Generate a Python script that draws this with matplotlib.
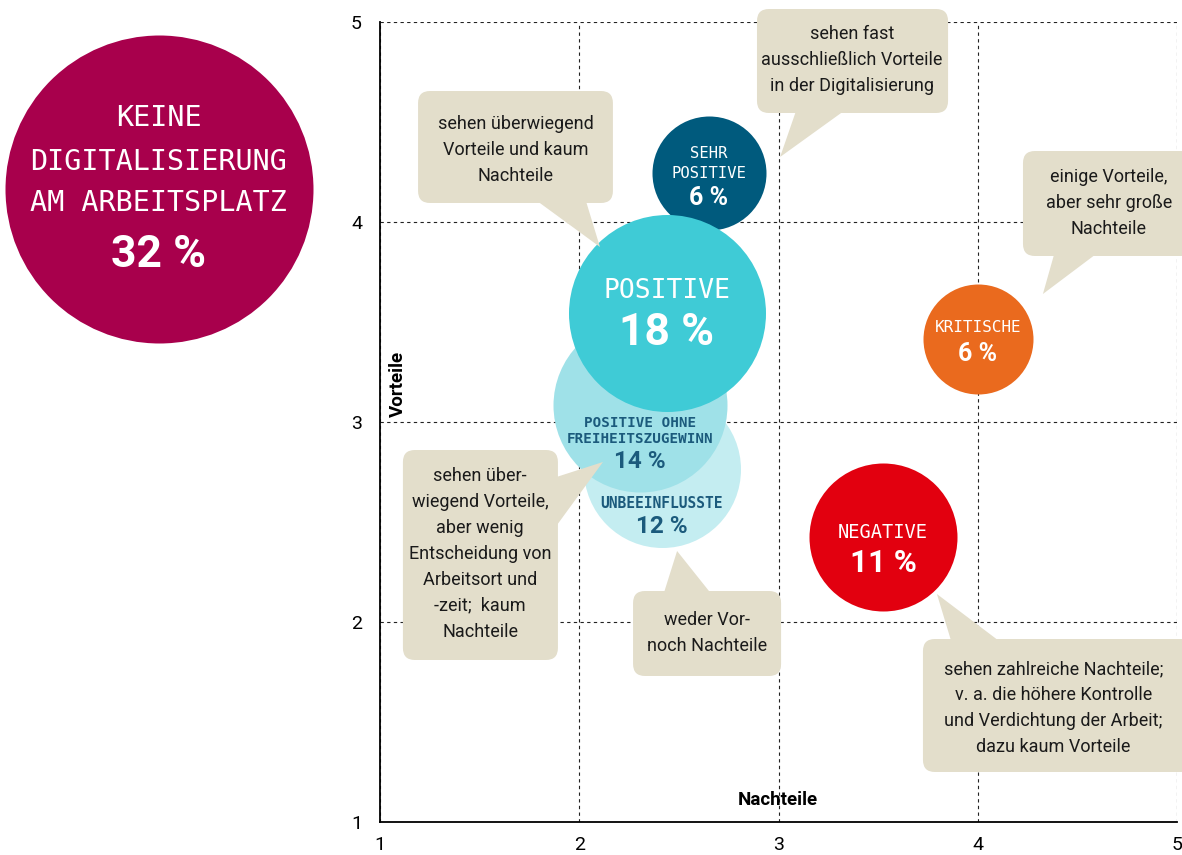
import matplotlib.pyplot as plt
from matplotlib.patches import FancyBboxPatch, Polygon

# --- Daten -------------------------------------------------------------
gruppen = ["SEHR\nPOSITIVE", "POSITIVE", "POSITIVE OHNE\nFREIHEITSZUGEWINN",
           "UNBEEINFLUSSTE", "KRITISCHE", "NEGATIVE"]
anteile = [6, 18, 14, 12, 6, 11]
nachteile = [2.65, 2.44, 2.305, 2.415, 4.0, 3.525]
vorteile = [4.245, 3.545, 3.085, 2.765, 3.415, 2.425]

keine_label = "KEINE\nDIGITALISIERUNG\nAM ARBEITSPLATZ"
keine_anteil = 32

beschreibungen = [
    "sehen überwiegend\nVorteile und kaum\nNachteile",
    "sehen fast\nausschließlich Vorteile\nin der Digitalisierung",
    "einige Vorteile,\naber sehr große\nNachteile",
    "sehen über-\nwiegend Vorteile,\naber wenig\nEntscheidung von\nArbeitsort und\n-zeit;  kaum\nNachteile",
    "weder Vor-\nnoch Nachteile",
    "sehen zahlreiche Nachteile;\nv. a. die höhere Kontrolle\nund Verdichtung der Arbeit;\ndazu kaum Vorteile",
]
ticks = [1, 2, 3, 4, 5]

# --- Stil ----------------------------------------------------------------
PT = 0.72  # Punkte pro Pixel bei 100 dpi
MONO = ["DejaVu Sans Mono"]
NARROW = ["Roboto", "DejaVu Sans"]
BEIGE = "#e3decb"

farben = ["#005a7d", "#3fcbd6", "#9fe1e8", "#c4edf1", "#ea6a1e", "#e2000f"]
textfarben = ["white", "white", "#1b5a7c", "#1b5a7c", "white", "white"]
radien_px = [57, 98.5, 87, 78.5, 55, 74]
ebenen = [4, 5, 4, 3, 4, 4]
# (Zeilenabstaende in px, Schriftgroesse Label, Gewicht, Abstand Zahl, Schriftgroesse Zahl)
layout = [
    ([-20, 0], 11.2, "normal", 25, 18),
    ([-22], 19, "normal", 20, 32),
    ([18, 34], 10.3, "bold", 57, 17.5),
    ([34.5], 10.5, "bold", 57.5, 17.5),
    ([-11], 11.5, "normal", 15, 18),
    ([-5], 13.5, "normal", 26, 22.5),
]

kaesten = [
    dict(box=(1.191, 4.095, 2.169, 4.655), zeiger=[(1.768, 4.12), (2.029, 4.12), (2.104, 3.875)], pos=(1.68, 4.36)),
    dict(box=(2.892, 4.545, 3.851, 5.065), zeiger=[(3.093, 4.57), (3.349, 4.57), (3.008, 4.325)], pos=(3.369, 4.81)),
    dict(box=(4.227, 3.83, 5.08, 4.355), zeiger=[(4.388, 3.855), (4.614, 3.855), (4.327, 3.64)], pos=(4.657, 4.095)),
    dict(box=(1.115, 1.81, 1.893, 2.86), zeiger=[(1.87, 2.72), (1.87, 2.46), (2.119, 2.80)], pos=(1.502, 2.34)),
    dict(box=(2.270, 1.73, 3.013, 2.155), zeiger=[(2.420, 2.13), (2.671, 2.13), (2.491, 2.355)], pos=(2.641, 1.943)),
    dict(box=(3.725, 1.25, 5.08, 1.915), zeiger=[(3.871, 1.89), (4.127, 1.89), (3.795, 2.14)], pos=(4.379, 1.57)),
]

fig = plt.figure(figsize=(11.82, 8.55), dpi=100)
ax = fig.add_axes([380 / 1182, 1 - 822 / 855, 797 / 1182, 800 / 855])
ax.set_xlim(1, 5)
ax.set_ylim(1, 5)
ax.set_xticks(ticks)
ax.set_yticks(ticks)
ax.tick_params(length=0, labelsize=14)
ax.tick_params(axis="x", pad=10)
ax.tick_params(axis="y", pad=13)
for lab in ax.get_xticklabels() + ax.get_yticklabels():
    lab.set_family(NARROW)
ax.grid(True, linestyle=(0, (3, 3)), color="#222222", linewidth=0.8, zorder=0)
ax.set_axisbelow(True)
for s in ["top", "right"]:
    ax.spines[s].set_visible(False)
for s in ["left", "bottom"]:
    ax.spines[s].set_linewidth(1.3)
    ax.spines[s].set_zorder(6)

ax.set_xlabel("Nachteile", family=NARROW, fontsize=13.5, fontweight="bold")
ax.xaxis.set_label_coords(0.4994, 0.039)
ax.set_ylabel("Vorteile", family=NARROW, fontsize=13.5, fontweight="bold")
ax.yaxis.set_label_coords(0.034, 0.5475)


def beschriften(x, y, text, dy_px, size, color, family, weight="normal"):
    ax.annotate(text, (x, y), xytext=(0, -dy_px * PT), textcoords="offset points",
                ha="center", va="center", fontsize=size, color=color, family=family,
                fontweight=weight, zorder=10, annotation_clip=False)


# Blasen
for i in range(len(gruppen)):
    x, y = nachteile[i], vorteile[i]
    ax.scatter([x], [y], s=(2 * radien_px[i] * PT) ** 2, color=farben[i],
               linewidths=0, zorder=ebenen[i])
    zeilen, gl, gew, dz, gz = layout[i]
    for txt, dy in zip(gruppen[i].split("\n"), zeilen):
        beschriften(x, y, txt, dy, gl, textfarben[i], MONO, gew)
    beschriften(x, y, f"{anteile[i]} %", dz, gz, textfarben[i], NARROW, "bold")

# Keine Digitalisierung (ausserhalb des Diagramms)
kx, ky = -0.11, 4.165
ax.scatter([kx], [ky], s=(2 * 154 * PT) ** 2, color="#a8004c", linewidths=0,
           zorder=4, clip_on=False)
for txt, dy in zip(keine_label.split("\n"), [-71, -27, 14]):
    beschriften(kx, ky, txt, dy, 20.4, "white", MONO)
beschriften(kx, ky, f"{keine_anteil} %", 66, 32, "white", NARROW, "bold")

# Sprechblasen
for k, txt in zip(kaesten, beschreibungen):
    x0, y0, x1, y1 = k["box"]
    ax.add_patch(FancyBboxPatch((x0, y0), x1 - x0, y1 - y0,
                                boxstyle="round,pad=0,rounding_size=0.06",
                                facecolor=BEIGE, edgecolor="none", zorder=8, clip_on=False))
    ax.add_patch(Polygon(k["zeiger"], closed=True, facecolor=BEIGE, edgecolor="none",
                         zorder=8, clip_on=False))
    ax.text(k["pos"][0], k["pos"][1], txt, ha="center", va="center", fontsize=13,
            family=NARROW, color="#1a1a1a", linespacing=1.56, zorder=9)

fig.savefig("out.png", dpi=100)
